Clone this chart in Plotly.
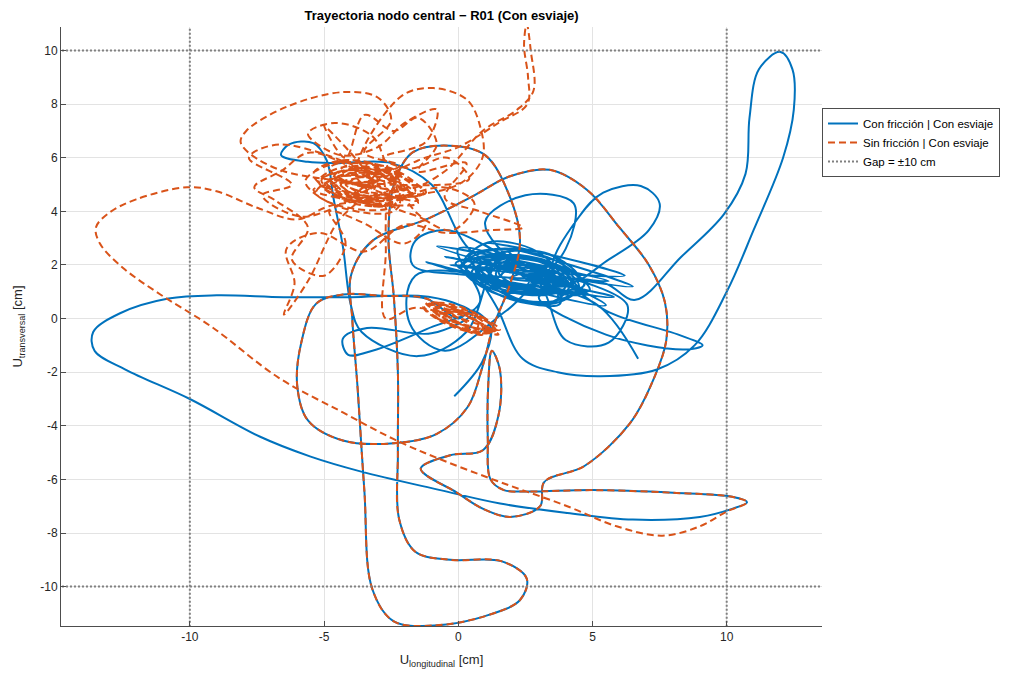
import plotly.graph_objects as go

# ---------------- data (cm) ----------------
GAP = 10.0

# path common to both runs (orange dashed drawn on top of blue)
shared_path = [
    (0.0, 0.0), (-1.2, 0.75), (-2.8, 0.85), (-4.3, 0.9), (-5.3, 0.55), (-5.85, -0.9),
    (-6.0, -2.5), (-5.6, -3.8), (-4.3, -4.55), (-2.4, -4.65), (-0.8, -4.3), (0.35, -3.3),
    (0.9, -1.8), (1.3, -0.3), (1.9, 1.2), (2.3, 2.9), (1.9, 4.6), (1.0, 6.1), (-0.3, 6.45),
    (-1.7, 6.2), (-2.4, 5.0), (-2.6, 3.0), (-2.4, 0.8), (-2.25, -2.0), (-2.25, -5.0),
    (-2.2, -7.5), (-1.6, -8.7), (-0.3, -9.0), (1.6, -9.05), (2.55, -9.7), (2.3, -10.5),
    (1.0, -11.1), (-0.9, -11.45), (-2.4, -11.3), (-3.2, -10.1), (-3.5, -6.4), (-3.75, -2.6),
    (-3.95, 0.0), (-4.0, 1.6), (-3.2, 2.9), (-1.2, 3.7), (0.6, 4.6), (1.9, 5.3), (3.4, 5.55),
    (4.8, 4.8), (6.0, 3.4), (7.1, 2.0), (7.7, 0.6), (7.75, -0.8), (7.3, -2.2), (6.4, -3.9),
    (4.7, -5.5), (3.2, -6.1), (3.05, -7.0), (1.94, -7.4), (0.93, -7.1), (-0.04, -6.5),
    (-1.4, -5.6), (-0.3, -5.1), (0.93, -4.9), (1.5, -3.6), (1.55, -1.9), (1.25, -1.2),
    (1.12, -2.4), (1.1, -4.5), (1.2, -6.0), (1.7, -6.4), (2.6, -6.45), (5.0, -6.4),
    (8.0, -6.5), (10.2, -6.65), (10.76, -6.85),
]

# ---- "Con fricción" only ----
blue_start = [(-0.15, -2.9), (0.9, -1.6), (1.2, -0.3), (0.5, 0.3)]
blue_return = [
    (10.2, -7.1), (9.0, -7.4), (6.5, -7.5), (4.06, -7.25), (1.56, -6.9), (-0.67, -6.4),
    (-3.65, -5.7), (-5.5, -5.15), (-7.4, -4.4), (-10.0, -3.0), (-12.4, -1.9),
    (-13.55, -1.2), (-13.6, -0.5), (-12.6, 0.2), (-10.8, 0.75), (-9.0, 0.87), (-6.5, 0.8),
    (-4.0, 0.8), (-1.5, 0.85), (-0.2, 0.6), (0.5, 0.2), (-1.0, -0.55), (-3.4, -0.35),
    (-4.3, -0.75), (-4.1, -1.35), (-3.2, -1.2), (-1.2, -0.4), (0.8, 0.6),
]
blue_swings = [
    (0.0, 2.6), (4.8, 1.0), (-0.8, 2.7), (5.6, 1.4), (-0.3, 2.0), (6.2, 1.6), (1.0, 2.8),
    (5.5, 0.5), (-1.2, 2.1), (4.5, 0.9), (3.5, 1.8), (4.5, 3.8), (5.4, 4.7), (6.8, 4.95),
    (7.5, 4.3), (7.1, 3.3), (5.6, 2.2), (4.0, 1.3), (1.8, 2.6), (6.5, 1.2), (-0.5, 2.3),
    (2.0, 2.0), (-0.4, 3.3), (-1.6, 2.9), (-1.7, 2.0), (0.5, 1.6), (5.8, 0.8), (2.5, 1.8),
    (1.0, 3.6), (2.5, 4.6), (4.3, 4.3), (4.0, 2.6), (3.0, 1.6), (-1.6, 1.6), (-1.8, -0.2),
    (-0.5, -1.2), (1.8, 0.3), (3.0, 1.2), (4.0, -0.8), (5.6, -0.9), (6.3, 0.5), (4.0, 1.5),
    (5.5, 0.3), (8.2, -0.6), (9.1, -1.0), (8.4, -1.15), (5.5, -0.6), (3.0, 0.8),
]
blue_core = [
    (4.7, 1.25), (3.55, 2.2), (1.25, 2.55), (0.1, 1.95), (1.25, 0.99), (3.55, 0.65),
    (4.5, 1.2), (3.55, 2.05), (1.65, 2.35), (0.7, 1.8), (1.65, 0.95), (3.55, 0.65),
    (4.2, 1.4), (3.2, 2.07), (1.2, 2.37), (0.2, 2.0), (1.2, 1.33), (3.2, 1.03),
    (4.4, 1.16), (3.6, 1.97), (2.0, 2.23), (1.2, 1.64), (2.0, 0.83), (3.6, 0.57),
    (4.7, 1.34), (3.5, 2.0), (1.1, 2.3), (-0.1, 2.06), (1.1, 1.4), (3.5, 1.1),
    (3.9, 1.39), (3.2, 2.05), (1.8, 2.25), (1.1, 1.81), (1.8, 1.15), (3.2, 0.95),
    (3.8, 1.53), (2.9, 2.52), (1.1, 2.84), (0.2, 2.07), (1.1, 1.28), (2.9, 0.96),
    (3.8, 1.32), (3.2, 1.88), (2.0, 2.12), (1.4, 1.68), (2.0, 1.08), (3.2, 0.98),
    (4.9, 1.07), (3.8, 1.96), (1.6, 2.25), (0.5, 1.73), (1.6, 0.85), (3.8, 0.56),
    (3.5, 1.45), (3.0, 1.92), (2.0, 2.0), (1.5, 1.75), (2.0, 1.28), (3.0, 1.2),
    (4.3, 1.3), (3.4, 2.1), (1.6, 2.3), (0.7, 1.9), (1.6, 1.1), (3.4, 0.9),
    (4.0, 1.2), (3.2, 1.8), (1.8, 2.1), (1.0, 1.9), (1.8, 1.3), (3.2, 1.1),
    (4.5, 1.5), (3.6, 2.3), (1.4, 2.6), (0.4, 2.3), (1.4, 1.4), (3.6, 1.0),
    (3.6, 1.4), (2.9, 1.9), (1.7, 2.0), (1.2, 1.7), (1.9, 1.3), (3.1, 1.2),
    (4.6, 1.0), (3.7, 1.7), (1.5, 1.9), (0.6, 1.6), (1.5, 0.9), (3.7, 0.7),
    (3.3, 1.6), (2.8, 2.0), (2.0, 1.9), (1.6, 1.6), (2.1, 1.3), (2.9, 1.3),
    (4.1, 1.6), (3.4, 2.4), (1.3, 2.4), (0.3, 1.8), (1.6, 1.0), (3.4, 1.2),
]
blue_excursions = [
    # top-left excursion
    (0.5, 2.5), (-1.0, 5.0), (-2.5, 5.8), (-4.5, 5.8), (-5.6, 5.85), (-6.6, 6.1),
    (-6.3, 6.5), (-5.4, 6.55), (-4.9, 5.9), (-4.65, 4.5), (-4.3, 2.7), (-4.0, 0.5),
    (-3.6, -0.5), (-1.5, -1.4), (0.3, -0.5), (1.6, 2.3), (3.6, 1.1), (2.2, 1.8),
    (4.1, 1.4), (1.9, 1.5), (3.3, 1.9), (2.6, 1.3), (3.8, 1.5),
    # far right excursion
    (5.5, 1.3), (6.6, 0.7), (8.3, 2.3), (9.9, 3.9), (10.7, 5.4), (10.85, 7.5), (11.2, 9.3),
    (12.0, 9.95), (12.45, 9.3), (12.5, 7.8), (12.1, 6.0), (11.0, 3.3), (10.0, 1.0),
    (8.8, -1.0), (7.4, -1.9), (5.3, -2.15), (3.7, -2.0), (2.4, -1.5), (1.5, 0.3),
    (0.6, 2.2), (4.4, 1.1), (1.2, 2.0), (3.8, 1.7), (2.3, 1.7), (3.1, 1.2), (2.7, 1.8),
    (3.5, 1.4), (2.5, 1.5), (5.2, 0.5), (6.7, -1.5),
]

# ---- "Sin fricción" only ----
orange_return = [
    (10.0, -7.2), (9.0, -7.75), (7.6, -8.1), (5.9, -7.75), (4.06, -7.0), (1.56, -6.1),
    (-0.67, -5.25), (-2.4, -4.5), (-4.3, -3.5), (-6.7, -2.2), (-9.2, -0.3), (-11.1, 0.9),
    (-12.5, 1.9), (-13.35, 2.8), (-13.5, 3.4), (-13.0, 3.95), (-12.0, 4.45), (-10.1, 4.9),
    (-9.0, 4.75), (-7.4, 4.1), (-6.0, 3.7), (-4.8, 4.2),
]
orange_core = [
    (-1.6, 4.77), (-2.5, 5.47), (-4.3, 5.65), (-5.2, 5.13), (-4.3, 4.43), (-2.5, 4.25),
    (-2.1, 4.85), (-2.85, 5.36), (-4.35, 5.51), (-5.1, 5.15), (-4.35, 4.64), (-2.85, 4.49),
    (-1.2, 4.7), (-2.2, 5.32), (-4.2, 5.52), (-5.2, 5.1), (-4.2, 4.48), (-2.2, 4.28),
    (-2.3, 4.88), (-2.9, 5.63), (-4.1, 5.75), (-4.7, 5.12), (-4.1, 4.37), (-2.9, 4.25),
    (-1.7, 4.74), (-2.5, 5.19), (-4.1, 5.35), (-4.9, 5.06), (-4.1, 4.61), (-2.5, 4.45),
    (-2.4, 4.9), (-2.9, 5.38), (-3.9, 5.48), (-4.4, 5.1), (-3.9, 4.62), (-2.9, 4.52),
    (-1.3, 4.68), (-2.4, 5.57), (-4.6, 5.79), (-5.7, 5.12), (-4.6, 4.23), (-2.4, 4.01),
    (-2.0, 4.87), (-2.65, 5.46), (-3.95, 5.59), (-4.6, 5.13), (-3.95, 4.54), (-2.65, 4.41),
    (-2.0, 4.7), (-2.8, 5.3), (-4.2, 5.4), (-4.9, 5.0), (-4.0, 4.5), (-2.8, 4.4),
    (-2.5, 5.0), (-3.0, 5.5), (-4.0, 5.6), (-4.6, 5.3), (-4.0, 4.7), (-3.0, 4.6),
    (-1.8, 5.0), (-2.6, 5.6), (-4.4, 5.9), (-5.4, 5.4), (-4.5, 4.6), (-2.6, 4.3),
    (-2.9, 4.9), (-3.2, 5.2), (-3.8, 5.25), (-4.1, 5.0), (-3.8, 4.75), (-3.2, 4.7),
    (-1.5, 4.4), (-2.4, 5.0), (-4.4, 5.3), (-5.3, 4.7), (-4.4, 4.2), (-2.4, 4.2),
    (-2.2, 5.2), (-2.9, 5.7), (-4.0, 5.9), (-4.8, 5.6), (-3.9, 5.0), (-2.9, 4.9),
]
orange_wander = [
    (-5.5, 6.2), (-6.6, 5.5), (-7.6, 4.9), (-6.8, 4.4), (-5.6, 3.4), (-6.2, 2.2),
    (-5.0, 1.6), (-4.2, 2.8), (-4.8, 4.0), (-3.6, 3.6), (-2.0, 2.8), (-1.2, 3.6),
    (-2.4, 4.2), (-0.6, 4.9), (0.6, 4.3), (-0.2, 3.3), (-1.5, 3.9), (-2.6, 5.6),
    (-3.2, 6.8), (-4.6, 7.3), (-5.6, 6.9), (-4.4, 6.1), (-3.0, 6.4), (-2.0, 7.3),
    (-0.8, 7.8), (-1.2, 6.6), (-2.8, 6.0), (-1.8, 5.6), (-0.4, 6.0), (0.4, 5.2),
    # top arc
    (-6.5, 5.5), (-8.1, 6.55), (-7.9, 7.0), (-6.4, 7.9), (-4.3, 8.45), (-3.0, 8.25),
    (-2.5, 7.4), (-3.5, 6.2), (-2.2, 5.7), (-5.4, 4.8), (-1.5, 4.3), (-3.4, 5.8),
    (-3.0, 4.2), (-4.8, 5.2), (-2.0, 4.8),
    # top excursion to the gap
    (-0.5, 5.5), (0.9, 7.0), (2.2, 7.8), (2.8, 8.5), (2.7, 10.0), (2.55, 11.0),
    (2.45, 10.2), (2.6, 9.0), (2.57, 8.0), (1.5, 7.3), (0.0, 6.4), (-1.5, 5.9),
    (-4.0, 4.6), (-2.6, 5.5), (-4.6, 4.9), (-2.4, 4.5), (-3.8, 5.3),
    # upper arc
    (-2.16, 8.27), (-0.93, 8.6), (0.33, 8.16), (0.82, 7.15), (0.9, 6.0), (0.0, 5.0),
    (-2.9, 4.6), (-4.2, 5.0), (-3.0, 5.2), (-6.6, 6.5), (-7.8, 6.0), (-6.2, 5.0),
    (-7.3, 4.6), (-5.8, 3.8), (-3.6, 4.7), (-3.2, 5.0), (-5.0, 7.2), (-4.2, 6.0),
    (-3.5, 7.6), (-2.4, 7.0), (-1.5, 7.5), (-0.8, 6.5), (-1.5, 5.5), (0.3, 5.8),
    (-0.5, 4.5), (0.8, 4.0), (2.4, 3.4), (1.2, 3.3), (-0.5, 3.2), (-2.0, 3.5),
    (-3.5, 2.5), (-5.2, 3.2), (-6.4, 2.6), (-6.1, 1.3), (-6.5, 0.15), (-5.6, 1.4),
    (-4.5, 3.6), (-3.4, 4.8), (-4.4, 5.1), (-2.6, 4.8), (-3.9, 4.4), (-2.9, 5.4),
    (-2.7, 2.7), (-2.7, 0.0), (-1.6, 0.4),
]
orange_residual = [
    (1.55, -0.42), (0.85, 0.09), (-0.55, 0.51), (-1.25, 0.42), (-0.55, -0.09), (0.85, -0.51),
    (1.4, -0.43), (0.85, 0.0), (-0.25, 0.33), (-0.8, 0.23), (-0.25, -0.2), (0.85, -0.53),
    (1.3, -0.34), (0.65, 0.2), (-0.65, 0.59), (-1.3, 0.44), (-0.65, -0.1), (0.65, -0.5),
    (1.0, -0.24), (0.6, 0.1), (-0.2, 0.34), (-0.6, 0.24), (-0.2, -0.1), (0.6, -0.34),
    (1.4, -0.45), (0.9, 0.0), (-0.1, 0.26), (-0.6, 0.15), (-0.1, -0.3), (0.9, -0.56),
    (1.2, -0.5), (0.7, -0.1), (-0.4, 0.35), (-1.0, 0.35), (-0.5, 0.0), (0.7, -0.4),
    (1.5, -0.6), (0.9, -0.2), (-0.2, 0.2), (-0.9, 0.1), (-0.3, -0.2), (0.9, -0.6),
    (0.9, -0.3), (0.3, 0.15), (-0.8, 0.6), (-1.2, 0.55), (-0.6, 0.2), (0.4, -0.3),
    (1.1, -0.35), (0.5, 0.0), (-0.4, 0.45), (-0.9, 0.4), (-0.3, 0.05), (0.6, -0.45),
    (0.75, -0.18), (0.45, 0.08), (-0.15, 0.26), (-0.45, 0.18), (-0.15, -0.08), (0.45, -0.26),
    (0.1, 0.0),
]

blue_pts = blue_start + shared_path + blue_return + blue_swings + blue_core + blue_excursions
orange_pts = shared_path + orange_return + orange_core + orange_wander + orange_residual

x_range = [-14.8, 13.55]
y_range = [-11.47, 10.88]
x_ticks = [-10, -5, 0, 5, 10]
y_ticks = [-10, -8, -6, -4, -2, 0, 2, 4, 6, 8, 10]

BLUE = "#0072BD"
ORANGE = "#D95319"
GRAY = "#808080"
FONT = "Liberation Sans, Arial, sans-serif"

fig = go.Figure()

fig.add_trace(go.Scatter(
    x=[p[0] for p in blue_pts], y=[p[1] for p in blue_pts], mode="lines",
    name="Con fricción | Con esviaje",
    line=dict(color=BLUE, width=2, shape="spline", smoothing=1.0),
))
fig.add_trace(go.Scatter(
    x=[p[0] for p in orange_pts], y=[p[1] for p in orange_pts], mode="lines",
    name="Sin fricción | Con esviaje",
    line=dict(color=ORANGE, width=2, dash="7px,4px", shape="spline", smoothing=1.0),
))

big = 100
gap_x = [-GAP, -GAP, None, GAP, GAP, None, -big, big, None, -big, big]
gap_y = [-big, big, None, -big, big, None, -GAP, -GAP, None, GAP, GAP]
fig.add_trace(go.Scatter(
    x=gap_x, y=gap_y, mode="lines", name="Gap = ±10 cm",
    line=dict(color=GRAY, width=2, dash="2px,2px"),
))

axis_common = dict(
    showgrid=True, gridcolor="#e3e3e3", gridwidth=1, zeroline=False,
    showline=True, linecolor="#4d4d4d", linewidth=1,
    ticks="inside", ticklen=5, tickcolor="#4d4d4d",
    tickfont=dict(family=FONT, size=12, color="#262626"),
)

fig.update_layout(
    width=1009, height=677,
    margin=dict(l=61, r=187, t=27, b=51, autoexpand=False),
    paper_bgcolor="white", plot_bgcolor="white",
    title=dict(
        text="<b>Trayectoria nodo central − R01 (Con esviaje)</b>",
        x=(61 + 822) / 2 / 1009, xanchor="center", y=1 - 15 / 677, yanchor="middle",
        font=dict(family=FONT, size=13, color="#000000"),
    ),
    xaxis=dict(
        range=x_range, tickvals=x_ticks, ticktext=[str(v) for v in x_ticks],
        title=dict(text="U<sub>longitudinal</sub> [cm]", standoff=11,
                   font=dict(family=FONT, size=13, color="#262626")),
        automargin=False,
        **axis_common,
    ),
    yaxis=dict(
        range=y_range, tickvals=y_ticks, ticktext=[str(v) for v in y_ticks],
        title=dict(text="U<sub>transversal</sub> [cm]", standoff=14,
                   font=dict(family=FONT, size=13, color="#262626")),
        automargin=False,
        **axis_common,
    ),
    legend=dict(
        x=1.0, xanchor="left", y=(626 - 108) / 599, yanchor="top",
        bgcolor="white", bordercolor="#4d4d4d", borderwidth=1,
        font=dict(family=FONT, size=11.5, color="#000000"),
        tracegroupgap=0, itemwidth=30,
    ),
    showlegend=True,
)

fig.write_html("out.html")
